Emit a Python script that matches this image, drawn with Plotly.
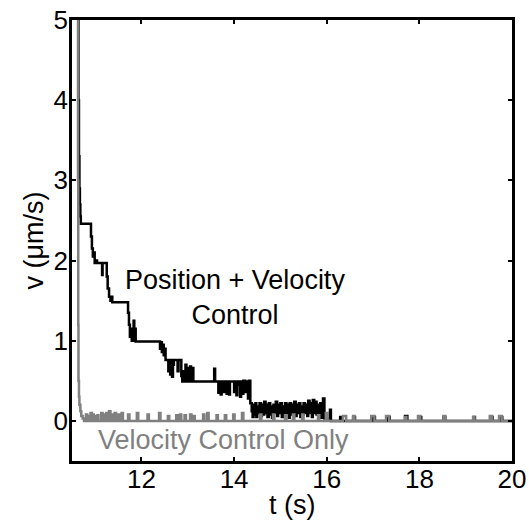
import plotly.graph_objects as go

# Position + Velocity Control (black)
pv_t = [10.625, 10.64, 10.65, 10.66, 10.67, 10.68, 10.69,
        10.91, 10.93, 10.95, 10.97, 10.99, 11.02, 11.04, 11.15, 11.16,
        11.25, 11.27, 11.30, 11.33, 11.35, 11.37,
        11.71, 11.73, 11.75, 11.77, 11.79, 11.81, 11.83, 11.845, 11.86, 11.875,
        12.40, 12.42, 12.44, 12.46, 12.48, 12.50, 12.52,
        12.58, 12.60, 12.62, 12.64, 12.66, 12.68, 12.70, 12.78, 12.80, 12.86,
        12.88, 12.91, 12.93, 12.95, 12.97, 13.00, 13.02, 13.05, 13.07, 13.10, 13.12,
        13.57, 13.59, 13.66, 13.68, 13.71, 13.73, 13.78, 13.80, 13.84, 13.86,
        13.89, 13.91, 14.00, 14.02, 14.05, 14.07, 14.10, 14.13, 14.15, 14.18,
        14.20, 14.24, 14.26, 14.30, 14.32, 14.35, 14.38, 14.40,
        14.42, 14.44, 14.46, 14.48, 14.50, 14.53, 14.55, 14.58, 14.60, 14.63,
        14.65, 14.68, 14.70, 14.72, 14.75, 14.78, 14.80, 14.82, 14.85, 14.88,
        14.90, 14.93, 14.95, 14.98, 15.00, 15.03, 15.05, 15.08, 15.10, 15.13,
        15.15, 15.18, 15.20, 15.23, 15.25, 15.28, 15.30, 15.33, 15.35, 15.38,
        15.40, 15.43, 15.45, 15.48, 15.50, 15.53, 15.55, 15.58, 15.60, 15.63,
        15.65, 15.68, 15.70, 15.73, 15.75, 15.78, 15.80, 15.83, 15.86, 15.88,
        15.92, 15.95, 16.07, 16.09,
        16.29, 16.33, 16.57, 16.61, 17.00, 17.04, 17.32, 17.36, 17.69, 17.74,
        18.00, 18.04, 18.52, 18.56, 19.17, 19.20, 19.55, 19.58, 19.75, 19.79, 20.0]
pv_v = [5.5, 4.0, 3.3, 2.9, 2.7, 2.55, 2.46,
        2.3, 2.15, 2.05, 2.1, 1.97, 2.0, 1.97, 1.82, 1.97,
        1.8, 1.65, 1.55, 1.5, 1.55, 1.48,
        1.35, 1.2, 1.05, 1.15, 1.0, 1.1, 1.25, 1.0, 1.15, 0.99,
        0.9, 0.98, 0.86, 0.95, 0.82, 0.9, 0.76,
        0.62, 0.76, 0.58, 0.76, 0.55, 0.7, 0.76, 0.62, 0.76, 0.56,
        0.49, 0.62, 0.49, 0.7, 0.49, 0.66, 0.49, 0.68, 0.49, 0.66, 0.49,
        0.65, 0.49, 0.35, 0.49, 0.33, 0.49, 0.36, 0.49, 0.34, 0.49,
        0.33, 0.49, 0.36, 0.49, 0.32, 0.45, 0.49, 0.3, 0.49, 0.34,
        0.5, 0.36, 0.49, 0.28, 0.5, 0.22, 0.12, 0.05,
        0.2, 0.08, 0.22, 0.05, 0.18, 0.1, 0.22, 0.06, 0.2, 0.08,
        0.24, 0.1, 0.2, 0.05, 0.22, 0.08, 0.18, 0.04, 0.2, 0.1,
        0.24, 0.06, 0.2, 0.1, 0.22, 0.05, 0.18, 0.08, 0.22, 0.1,
        0.2, 0.04, 0.22, 0.08, 0.2, 0.1, 0.24, 0.06, 0.2, 0.1,
        0.22, 0.05, 0.18, 0.08, 0.22, 0.1, 0.2, 0.06, 0.25, 0.1,
        0.22, 0.05, 0.26, 0.1, 0.24, 0.08, 0.2, 0.05, 0.22, 0.04,
        0.28, 0.03, 0.14, 0.0,
        0.05, 0.0, 0.05, 0.0, 0.05, 0.0, 0.05, 0.0, 0.06, 0.0,
        0.05, 0.0, 0.05, 0.0, 0.05, 0.0, 0.05, 0.0, 0.05, 0.0, 0.0]

# Velocity Control Only (gray)
vc_t = [10.62, 10.63, 10.635, 10.64, 10.65, 10.66, 10.68, 10.70, 10.73, 10.76,
        10.80, 10.83, 10.86, 10.88, 10.90, 10.93, 10.95, 10.97, 11.00, 11.02,
        11.05, 11.07, 11.13, 11.16, 11.18, 11.21, 11.24, 11.27, 11.30, 11.33,
        11.35, 11.38, 11.42, 11.45, 11.50, 11.53, 11.57, 11.60, 11.71, 11.74,
        11.90, 11.93, 12.13, 12.16, 12.38, 12.41, 12.57, 12.60, 12.75, 12.78,
        12.83, 12.86, 12.93, 12.96, 13.05, 13.08, 13.12, 13.15, 13.33, 13.36,
        13.42, 13.45, 13.62, 13.65, 13.80, 13.83, 13.98, 14.01, 14.17, 14.20,
        14.56, 14.59, 14.84, 14.87, 15.10, 15.13, 15.27, 15.30, 15.47, 15.50,
        15.81, 15.84, 15.98, 16.02, 16.35, 16.42, 16.57, 16.60, 16.96, 17.03,
        17.28, 17.35, 17.69, 17.72, 17.97, 18.02, 18.52, 18.56, 19.16, 19.19,
        19.52, 19.57, 19.72, 19.78, 20.0]
vc_v = [5.5, 3.0, 1.2, 0.5, 0.3, 0.2, 0.12, 0.06, 0.03, 0.0,
        0.08, 0.0, 0.06, 0.0, 0.1, 0.0, 0.08, 0.0, 0.06, 0.0,
        0.07, 0.0, 0.1, 0.0, 0.08, 0.0, 0.1, 0.0, 0.12, 0.0,
        0.08, 0.0, 0.1, 0.0, 0.08, 0.0, 0.1, 0.0, 0.08, 0.0,
        0.1, 0.0, 0.08, 0.0, 0.1, 0.0, 0.06, 0.0, 0.07, 0.0,
        0.08, 0.0, 0.07, 0.0, 0.08, 0.0, 0.06, 0.0, 0.08, 0.0,
        0.1, 0.0, 0.07, 0.0, 0.07, 0.0, 0.08, 0.0, 0.1, 0.0,
        0.08, 0.0, 0.08, 0.0, 0.07, 0.0, 0.08, 0.0, 0.08, 0.0,
        0.07, 0.0, 0.1, 0.0, 0.06, 0.0, 0.06, 0.0, 0.06, 0.0,
        0.06, 0.0, 0.05, 0.0, 0.06, 0.0, 0.06, 0.0, 0.05, 0.0,
        0.06, 0.0, 0.06, 0.0, 0.0]

x_ticks = [12, 14, 16, 18, 20]
y_ticks = [0, 1, 2, 3, 4, 5]

FONT = "Liberation Sans, Arial, Helvetica, sans-serif"
GRAY = "#808080"

fig = go.Figure()
fig.add_trace(go.Scatter(x=pv_t, y=pv_v, mode="lines", line=dict(color="black", width=2.5, shape="hv"),
                         showlegend=False))
fig.add_trace(go.Scatter(x=vc_t, y=vc_v, mode="lines", line=dict(color=GRAY, width=2.5, shape="hv"),
                         showlegend=False))

fig.add_annotation(x=14.02, y=1.54, text="Position + Velocity<br>Control", showarrow=False,
                   font=dict(family=FONT, size=27, color="black"), align="center",
                   xanchor="center", yanchor="middle")
fig.add_annotation(x=13.77, y=-0.24, text="Velocity Control Only", showarrow=False,
                   font=dict(family=FONT, size=27, color=GRAY), align="center",
                   xanchor="center", yanchor="middle")

# axis titles
fig.add_annotation(x=0.5, y=0, xref="paper", yref="paper", text="t (s)", showarrow=False,
                   font=dict(family=FONT, size=27, color="black"),
                   xanchor="center", yanchor="middle", yshift=-44)
fig.add_annotation(x=0, y=0.5, xref="paper", yref="paper", text="v (μm/s)", showarrow=False,
                   font=dict(family=FONT, size=27, color="black"), textangle=-90,
                   xanchor="center", yanchor="middle", xshift=-39)

axis_common = dict(showline=True, linecolor="black", linewidth=2.5, mirror="allticks",
                   ticks="inside", ticklen=4, tickwidth=1.5, tickcolor="black",
                   showgrid=False, zeroline=False, automargin=False,
                   tickfont=dict(family=FONT, size=26, color="black"))

fig.update_xaxes(range=[10.5, 20], tickvals=x_ticks, ticktext=[str(v) for v in x_ticks],
                 ticklabelstandoff=-7, **axis_common)
fig.update_yaxes(range=[-0.5, 5], tickvals=y_ticks, ticktext=[str(v) for v in y_ticks],
                 ticklabelstandoff=-4, **axis_common)

fig.update_layout(width=529, height=527, margin=dict(l=72, r=17, t=20, b=66),
                  plot_bgcolor="white", paper_bgcolor="white")

fig.write_html("out.html")
